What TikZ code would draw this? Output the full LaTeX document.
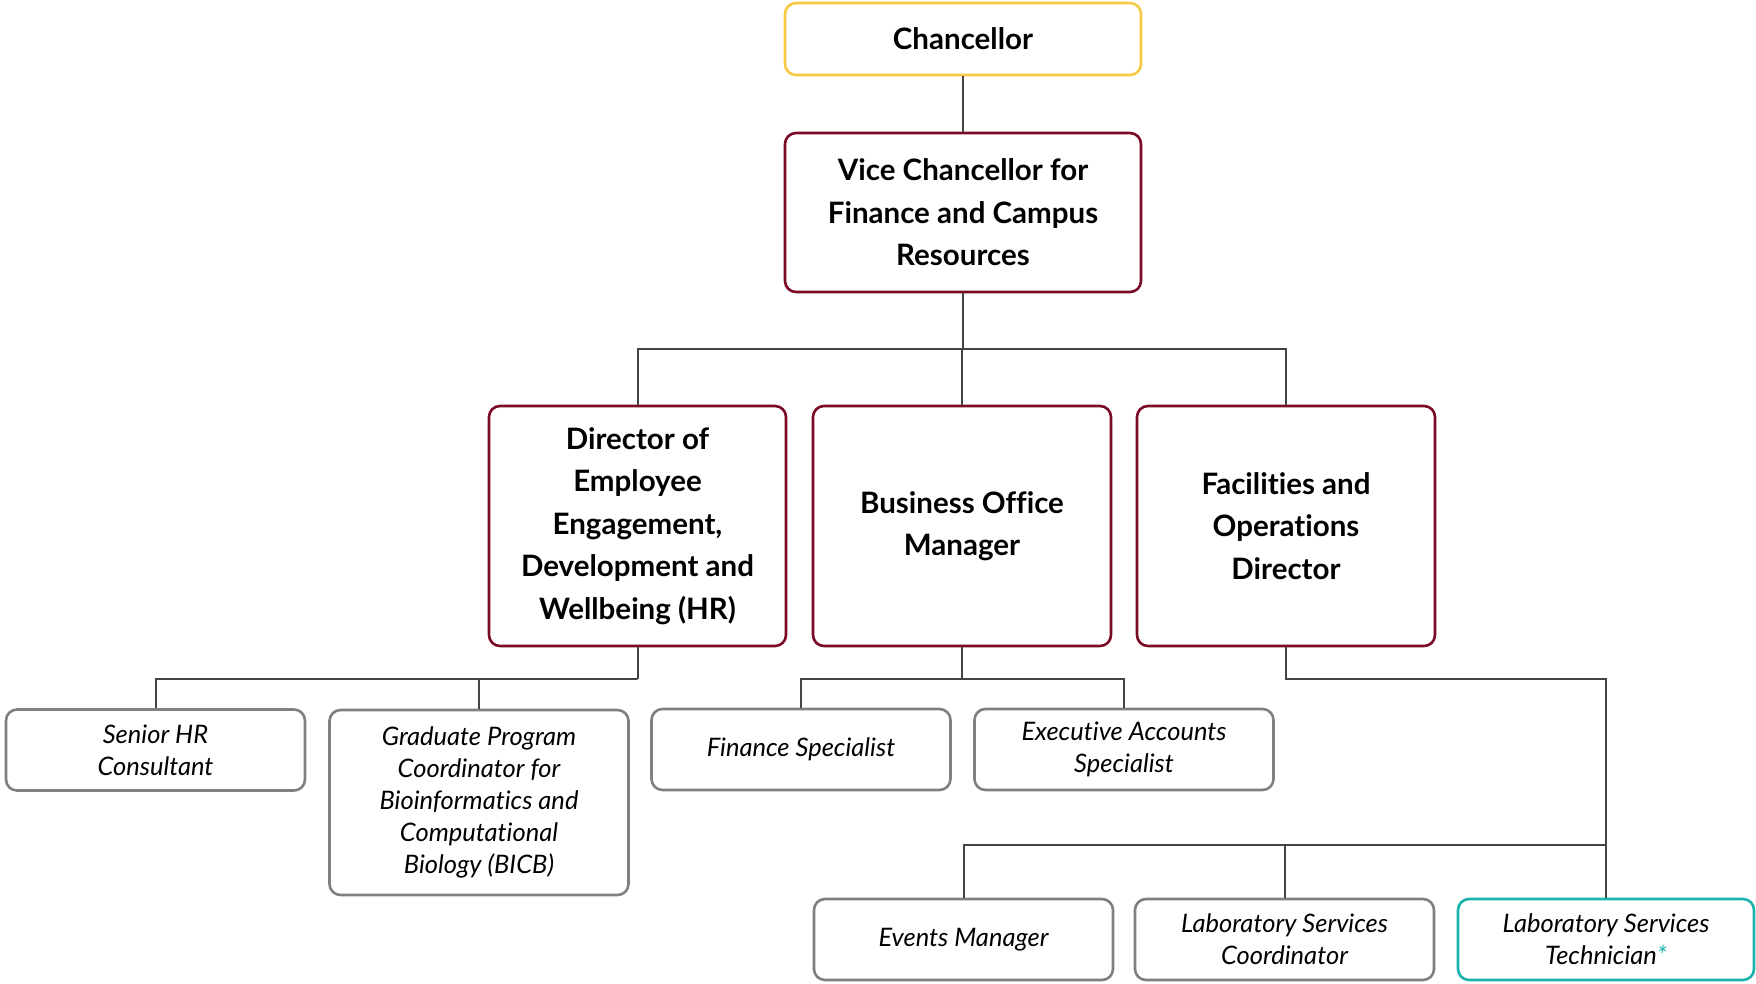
\documentclass[tikz,border=0pt]{standalone}
\usepackage{fontspec}
\setmainfont{Lato}[Ligatures=NoCommon]
\definecolor{cyel}{HTML}{F7C844}
\definecolor{cmar}{HTML}{7A0A25}
\definecolor{cgry}{HTML}{808080}
\definecolor{cteal}{HTML}{1AB3AE}
\definecolor{cline}{HTML}{444444}
\begin{document}
\begin{tikzpicture}[x=1pt,y=-1pt,
  box/.style={draw, line width=2.6pt, rounded corners=11pt, align=center, inner sep=0pt, fill=white},
  top/.style={box, font=\fontsize{29.5}{42.5}\selectfont\bfseries},
  sub/.style={box, draw=cgry, font=\fontsize{25.5}{31.8}\selectfont\itshape, minimum width=299pt},
  conn/.style={draw=cline, line width=2pt}]
\useasboundingbox[fill=white] (0,0) rectangle (1756,983);
\node[top, draw=cyel, minimum width=356pt, minimum height=72pt] (chan) at (963,39) {Chancellor};
\node[top, draw=cmar, minimum width=356pt, minimum height=159pt] (vc) at (963,212.5) {Vice Chancellor for\\Finance and Campus\\Resources};
\node[top, draw=cmar, minimum width=297pt, minimum height=240pt] (hr) at (637.5,526) {Director of\\Employee\\Engagement,\\Development and\\Wellbeing (HR)};
\node[top, draw=cmar, minimum width=298pt, minimum height=240pt] (bom) at (962,526) {Business Office\\Manager};
\node[top, draw=cmar, minimum width=298pt, minimum height=240pt] (fac) at (1286,526) {Facilities and\\Operations\\Director};
\node[sub, minimum height=81pt] (shr) at (155.5,750) {Senior HR\\Consultant};
\node[sub, minimum height=185pt] (grad) at (479,802.5) {Graduate Program\\Coordinator for\\Bioinformatics and\\Computational\\Biology (BICB)};
\node[sub, minimum height=81pt] (fin) at (801,749.5) {Finance Specialist};
\node[sub, minimum height=81pt] (exec) at (1124,749.5) {Executive Accounts\\Specialist};
\node[sub, minimum height=81pt] (ev) at (963.5,939.5) {Events Manager};
\node[sub, minimum height=81pt] (lc) at (1284.5,939.5) {Laboratory Services\\Coordinator};
\node[sub, draw=cteal, minimum height=81pt, minimum width=296pt] (lt) at (1606,939.5) {Laboratory Services\\Technician\textcolor{cteal}{*}};
\coordinate (j1) at (963,349);
\coordinate (j2) at (hr.south |- 0,679);
\coordinate (j3) at (bom.south |- 0,679);
\coordinate (j4) at (fac.south |- 0,679);
\coordinate (j5) at (lt.north |- 0,845);
\draw[conn] (chan.south) -- (vc.north);
\draw[conn] (vc.south) -- (j1);
\draw[conn] (hr.north) |- (j1) -| (fac.north);
\draw[conn] (bom.north) -- (bom.north |- j1);
\draw[conn] (hr.south) -- (j2);
\draw[conn] (shr.north) |- (j2) -| (grad.north);
\draw[conn] (bom.south) -- (j3);
\draw[conn] (fin.north) |- (j3) -| (exec.north);
\draw[conn] (fac.south) -- (j4) -| (lt.north);
\draw[conn] (ev.north) |- (j5);
\draw[conn] (lc.north) -- (lc.north |- j5);
\end{tikzpicture}
\end{document}
